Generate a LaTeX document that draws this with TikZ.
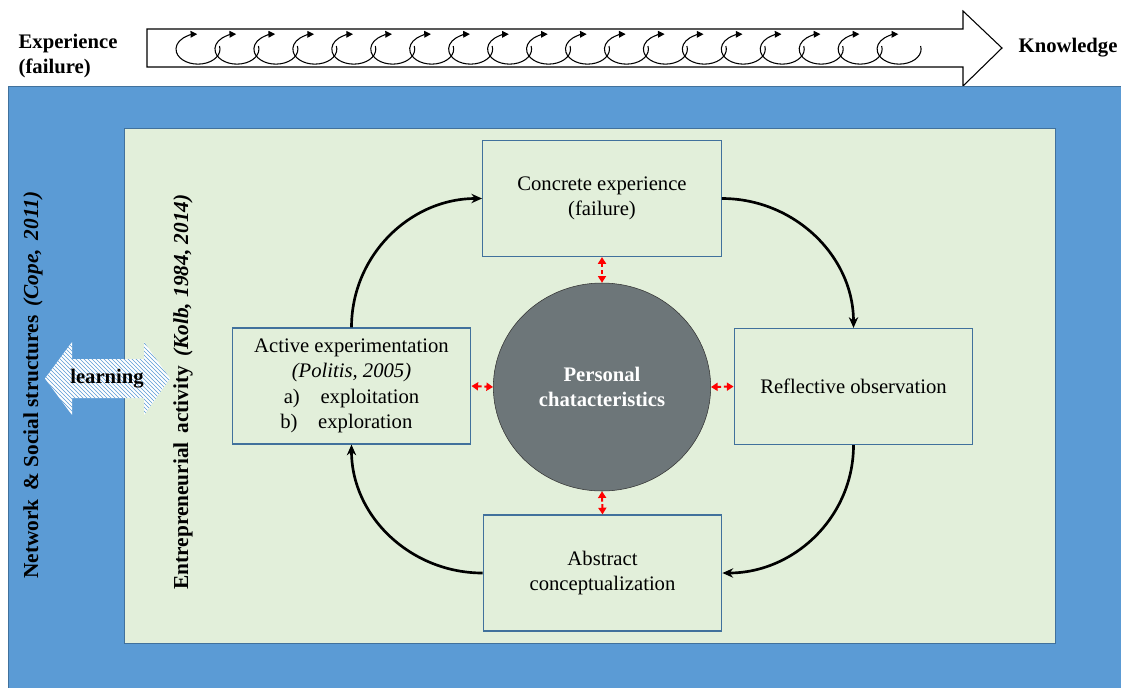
\documentclass[tikz,border=0pt]{standalone}
\usepackage{fontspec}
\setmainfont{Liberation Serif}
\usetikzlibrary{arrows.meta,shapes.geometric,patterns}
\definecolor{outerblue}{HTML}{5B9BD5}
\definecolor{edgeblue}{HTML}{41719C}
\definecolor{innergreen}{HTML}{E2EFDA}
\definecolor{coregray}{HTML}{6D7679}
\tikzset{
  stage/.style={draw=edgeblue, line width=0.9pt, fill=innergreen, align=center,
    minimum width=179pt, minimum height=87pt, font=\fontsize{15.5}{19}\selectfont},
  cycle/.style={line width=2pt, -{Stealth[length=8pt,width=7pt]}},
  link/.style={red, line width=1.5pt, dash pattern=on 3pt off 2pt,
    {Triangle[length=5pt,width=6pt]}-{Triangle[length=5pt,width=6pt]}},
  side/.style={rotate=90, font=\fontsize{16}{18}\selectfont\bfseries},
  curl/.style={line width=0.8pt, -{Triangle[length=5pt,width=5pt]}}
}
\begin{document}
\begin{tikzpicture}[x=0.75pt,y=-0.75pt]
  \useasboundingbox (0,0) rectangle (1121,687);
  % top arrow: experience -> knowledge
  \draw[line width=0.8pt, fill=white] (147,29) -- (963,29) -- (963,11) -- (1002,48)
    -- (963,86) -- (963,67) -- (147,67) -- cycle;
  \foreach \i in {0,...,18}
    \draw[curl] ({198+38.95*\i+21.5},46) arc[start angle=-12, end angle=268,
      x radius=22, y radius=15];
  \node[align=left, anchor=west, font=\fontsize{15.5}{19}\selectfont\bfseries] (exp) at (14,56)
    {Experience\\(failure)};
  \node[anchor=west, font=\fontsize{15.5}{18}\selectfont\bfseries] (know) at (1014,48) {Knowledge};
  % nested frames
  \draw[edgeblue, fill=outerblue] (8,86) rectangle (1125,691);
  \draw[edgeblue, fill=innergreen] (124,128) rectangle (1055,643);
  \node[side] (network) at (33,385) {Network \,\& Social structures \,\textit{(Cope, \,2011)}};
  \node[side] (entre) at (183,392) {Entrepreneurial \,activity \,\textit{(Kolb, 1984, 2014)}};
  % learning arrow
  \fill[white] (45,378.5) -- (72,342) -- (72,359) -- (144,359) -- (144,342) -- (170,378.5)
    -- (144,415) -- (144,398) -- (72,398) -- (72,415) -- cycle;
  \fill[pattern=north west lines, pattern color=outerblue] (45,378.5) -- (72,342) -- (72,359)
    -- (144,359) -- (144,342) -- (170,378.5) -- (144,415) -- (144,398) -- (72,398)
    -- (72,415) -- cycle;
  \node[font=\fontsize{15.5}{18}\selectfont\bfseries] (learn) at (107,379) {learning};
  % learning cycle
  \node[stage] (conc) at (602,198.5) {Concrete experience\\(failure)};
  \node[stage] (refl) at (853.5,386.5) {Reflective observation};
  \node[stage] (abst) at (602.5,573) {Abstract\\conceptualization};
  \node[stage] (act) at (351.5,386) {Active experimentation\\\textit{(Politis, 2005)}\\
    a)\quad exploitation\\ b)\quad exploration\phantom{n}};
  \node[ellipse, draw=black!80, fill=coregray, minimum width=163pt, minimum height=156pt,
    align=center, text=white, font=\fontsize{15.5}{19}\selectfont\bfseries] (pers) at (602,387)
    {Personal\\chatacteristics};
  \draw[cycle] (act.north) to[out=90, in=180] (conc.west);
  \draw[cycle] (conc.east) to[out=0, in=90] (refl.north);
  \draw[cycle] (refl.south) to[out=270, in=0] (abst.east);
  \draw[cycle] (abst.west) to[out=180, in=270] (act.south);
  \draw[link] (conc.south) -- (pers.north);
  \draw[link] (pers.south) -- (abst.north);
  \draw[link] (act.east) -- (pers.west);
  \draw[link] (pers.east) -- (refl.west);
\end{tikzpicture}
\end{document}
